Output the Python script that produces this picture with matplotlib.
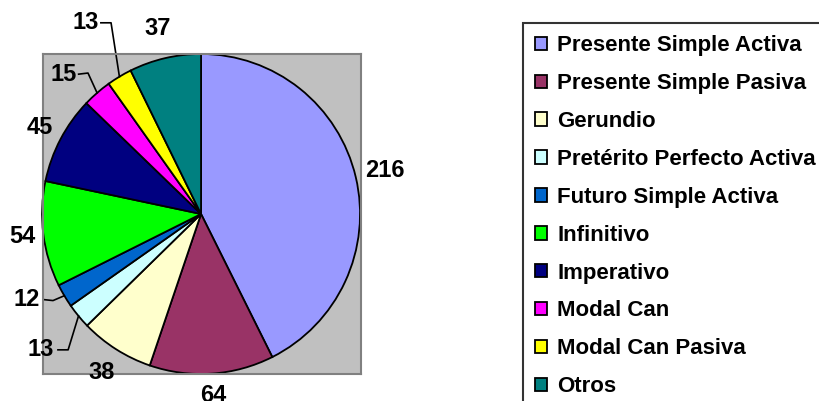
import numpy as np
import matplotlib
matplotlib.use("Agg")
import matplotlib.pyplot as plt

plt.rcParams['font.family'] = ['Liberation Sans', 'DejaVu Sans']
plt.rcParams['font.weight'] = 'bold'

# data
categories = ['Presente Simple Activa', 'Presente Simple Pasiva', 'Gerundio',
              'Pretérito Perfecto Activa', 'Futuro Simple Activa', 'Infinitivo',
              'Imperativo', 'Modal Can', 'Modal Can Pasiva', 'Otros']
values = [216, 64, 38, 13, 12, 54, 45, 15, 13, 37]
colors = ['#9999FF', '#993366', '#FFFFCC', '#CCFFFF', '#0066CC',
          '#00FF00', '#000080', '#FF00FF', '#FFFF00', '#008080']

# label layout: radius factor for plain labels, text/elbow spots for leader labels
label_r = {0: 1.19, 1: 1.14, 2: 1.17, 5: 1.13, 6: 1.15, 9: 1.19}
leaders = {3: ((-1.006, -0.849), (-0.836, -0.849), -0.9),
           4: ((-1.094, -0.535), (-0.931, -0.541), -0.99),
           7: ((-0.862, 0.874), (-0.711, 0.881), -0.77),
           8: ((-0.723, 1.195), (-0.566, 1.195), -0.63)}

fig = plt.figure(figsize=(8.2, 4.01), dpi=100)
ax = fig.add_axes([43 / 820, 27 / 401, 318 / 820, 320 / 401])

wedges, _ = ax.pie(values, colors=colors, startangle=90, counterclock=False,
                   wedgeprops=dict(edgecolor='black', linewidth=1.3))
ax.set_aspect('auto')
ax.set_frame_on(True)
ax.set_facecolor('#C0C0C0')
for s in ax.spines.values():
    s.set_color('#808080')
    s.set_linewidth(1.5)
ax.set_xlim(-0.994, 1.006)
ax.set_ylim(-1.0, 1.0)
ax.set_xticks([])
ax.set_yticks([])

lab_fs = 17
for i, w in enumerate(wedges):
    ang = np.deg2rad((w.theta1 + w.theta2) / 2)
    ex, ey = np.cos(ang), np.sin(ang)
    if i in leaders:
        (tx, ty), (bx, by), lx = leaders[i]
        ax.text(tx, ty, str(values[i]), ha='center', va='center',
                fontsize=lab_fs, fontweight='bold', clip_on=False)
        ax.plot([lx, bx, ex], [ty, by, ey], color='black', lw=1.2,
                clip_on=False)
    else:
        r = label_r[i]
        ax.text(r * ex, r * ey, str(values[i]), ha='center', va='center',
                fontsize=lab_fs, fontweight='bold', clip_on=False)

leg = fig.legend(wedges, categories, loc='upper left',
                 bbox_to_anchor=(523 / 820, 1 - 23 / 401),
                 fontsize=16, frameon=True, fancybox=False,
                 handlelength=0.55, handleheight=0.55, handletextpad=0.45,
                 labelspacing=0.76, borderpad=0.55, borderaxespad=0)
leg.get_frame().set_edgecolor('black')
leg.get_frame().set_linewidth(1.5)
for t in leg.get_texts():
    t.set_fontweight('bold')

fig.savefig('out.png', dpi=100)
